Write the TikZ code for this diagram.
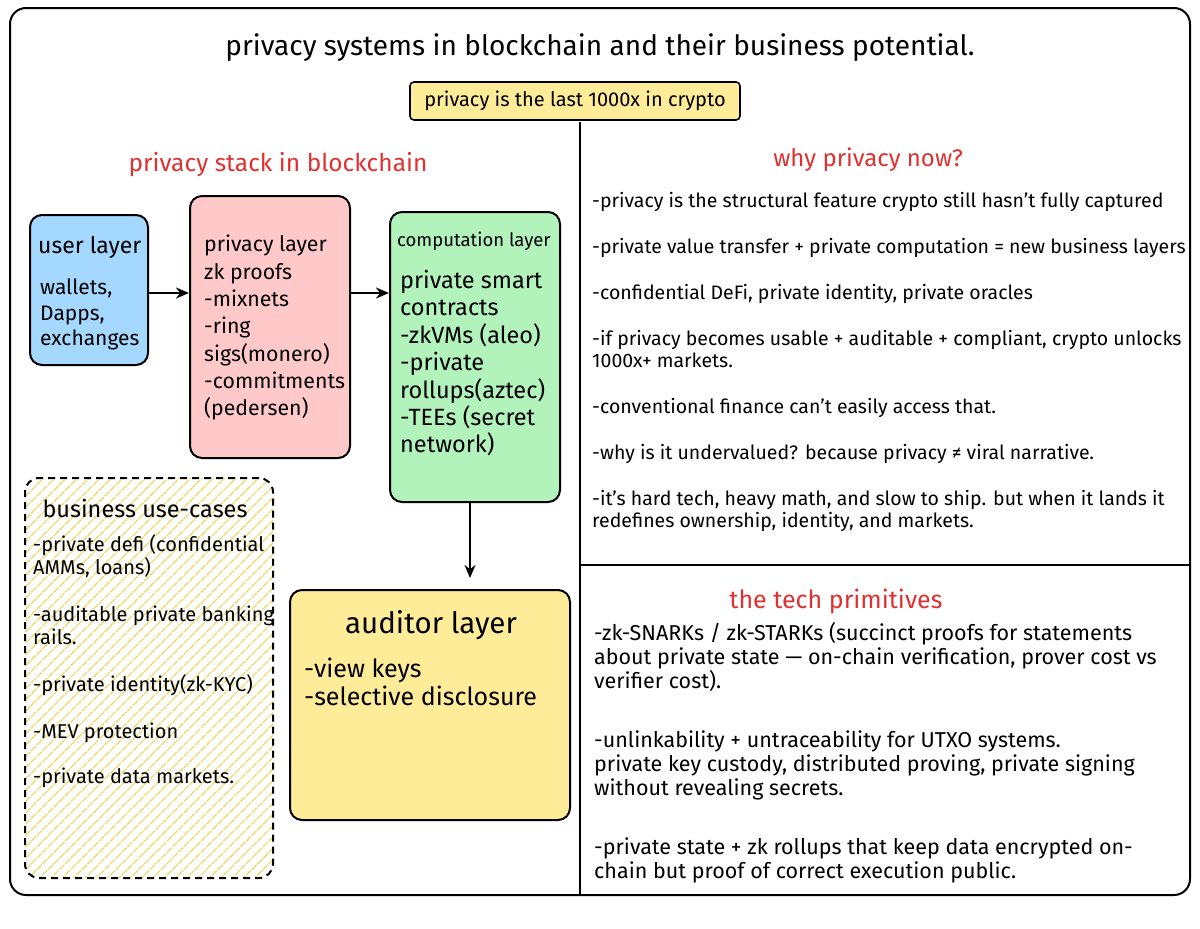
\documentclass[tikz,border=0pt]{standalone}
\usepackage{fontspec}
\setmainfont{Fira Sans}
\usetikzlibrary{patterns.meta,arrows.meta}
\definecolor{redt}{HTML}{E03131}
\definecolor{blu}{HTML}{A5D8FF}
\definecolor{pnk}{HTML}{FFC9C9}
\definecolor{grn}{HTML}{B2F2BB}
\definecolor{yel}{HTML}{FFEC99}
\definecolor{hat}{HTML}{EEDA70}
\begin{document}
\begin{tikzpicture}[x=1pt,y=-1pt,
  box/.style={draw,line width=2pt,rounded corners=12pt},
  arr/.style={-{Stealth[length=13pt,width=11pt]},line width=2.2pt},
  txt/.style={anchor=north west,align=left,inner sep=0pt},
  hd/.style={text=redt}]
\useasboundingbox (0,0) rectangle (1200,929);
\draw[line width=2pt,rounded corners=16pt] (10,8) rectangle (1190,895);
\node[font=\fontsize{28}{30}\selectfont] (title) at (600,48) {privacy systems in blockchain and their business potential.};
\node[draw,line width=1.6pt,fill=yel,rounded corners=4pt,minimum width=330pt,minimum height=38pt,font=\fontsize{20}{22}\selectfont] (tag) at (575,101) {privacy is the last 1000x in crypto};
\draw[line width=2pt] (580,122) -- (580,895);
\draw[line width=2pt] (580,565) -- (1190,565);
\node[hd,font=\fontsize{24.5}{28}\selectfont] (stack) at (278,165) {privacy stack in blockchain};
\node[box,fill=blu,minimum width=118pt,minimum height=150pt] (user) at (89,290) {};
\node[txt,font=\fontsize{23}{26}\selectfont] at (38,236) {user layer};
\node[txt,font=\fontsize{21}{25.5}\selectfont] at (40,279) {wallets,\\Dapps,\\exchanges};
\node[box,fill=pnk,minimum width=160pt,minimum height=262pt] (priv) at (270,327) {};
\node[txt,font=\fontsize{21.3}{27.3}\selectfont] at (204,235) {privacy layer\\zk proofs\\-mixnets\\-ring\\sigs(monero)\\-commitments\\(pedersen)};
\node[box,fill=grn,minimum width=170pt,minimum height=290pt] (comp) at (475,357) {};
\node[txt,font=\fontsize{18.5}{20}\selectfont] at (397,232) {computation layer};
\node[txt,font=\fontsize{23.5}{27.4}\selectfont] at (400,270) {private smart\\contracts\\-zkVMs (aleo)\\-private\\rollups(aztec)\\-TEEs (secret\\network)};
\node[box,fill=yel,minimum width=280pt,minimum height=230pt] (aud) at (430,705) {};
\node[font=\fontsize{29.5}{32}\selectfont] at (431,625) {auditor layer};
\node[txt,font=\fontsize{25}{28}\selectfont] at (304,658) {-view keys\\-selective disclosure};
\draw[arr] (user.east |- 0,293) -- (priv.west |- 0,293);
\draw[arr] (priv.east |- 0,293) -- (comp.west |- 0,293);
\draw[arr] (comp.south -| 470,0) -- (470,578);
\node[draw,line width=2pt,dash pattern=on 7pt off 5pt,rounded corners=14pt,pattern={Lines[angle=45,distance=8pt,line width=1.3pt]},pattern color=hat,minimum width=248pt,minimum height=400pt] (biz) at (149,678) {};
\node[font=\fontsize{23.5}{26}\selectfont] at (145,508) {business use-cases};
\node[txt,font=\fontsize{20}{23}\selectfont] at (33,534) {-private defi (confidential\\AMMs, loans)\\[24pt]-auditable private banking\\rails.\\[24pt]-private identity(zk-KYC)\\[24pt]-MEV protection\\[22pt]-private data markets.};
\node[hd,font=\fontsize{24}{28}\selectfont] (why) at (868,160) {why privacy now?};
\node[txt,font=\fontsize{19.5}{22}\selectfont] at (592,192) {-privacy is the structural feature crypto still hasn’t fully captured\\[24pt]-private value transfer + private computation = new business layers\\[24pt]-confidential DeFi, private identity, private oracles\\[24pt]-if privacy becomes usable + auditable + compliant, crypto unlocks\\1000x+ markets.\\[24pt]-conventional finance can’t easily access that.\\[24pt]-why is it undervalued? because privacy ≠ viral narrative.\\[24pt]-it’s hard tech, heavy math, and slow to ship. but when it lands it\\redefines ownership, identity, and markets.};
\node[hd,font=\fontsize{25}{28}\selectfont] (tech) at (836,601) {the tech primitives};
\node[txt,font=\fontsize{21.5}{24}\selectfont] at (594,622) {-zk-SNARKs / zk-STARKs (succinct proofs for statements\\about private state — on-chain verification, prover cost vs\\verifier cost).\\[35pt]-unlinkability + untraceability for UTXO systems.\\private key custody, distributed proving, private signing\\without revealing secrets.\\[35pt]-private state + zk rollups that keep data encrypted on-\\chain but proof of correct execution public.};
\end{tikzpicture}
\end{document}
